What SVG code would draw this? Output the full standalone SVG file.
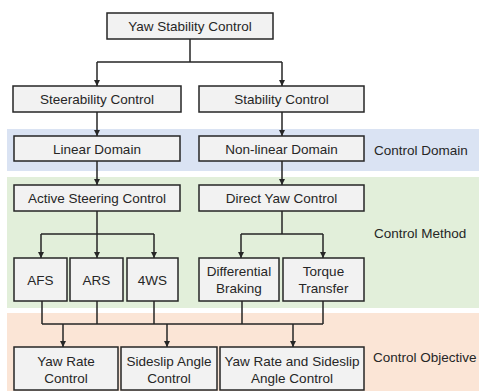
<svg xmlns="http://www.w3.org/2000/svg" width="479" height="391" viewBox="0 0 479 391">
<defs>
<style>
.box{fill:#f2f2f2;stroke:#262626;stroke-width:1.5}
.t{font-family:"Liberation Sans",Arial,sans-serif;font-size:13.5px;fill:#262626;text-anchor:middle}
.lbl{font-family:"Liberation Sans",Arial,sans-serif;font-size:13.5px;fill:#262626}
.ln{fill:none;stroke:#262626;stroke-width:1.5}
</style>
<marker id="ah" viewBox="0 0 6 6" refX="6" refY="3" markerWidth="6" markerHeight="6" markerUnits="userSpaceOnUse" orient="auto">
<path d="M0,0 L6,3 L0,6 Z" fill="#262626"/>
</marker>
</defs>
<rect width="479" height="391" fill="#ffffff"/>
<g id="bands">
<rect x="7" y="129" width="472" height="42" fill="#dae3f3"/>
<rect x="7" y="177" width="472" height="131" fill="#e2efda"/>
<rect x="7" y="313" width="472" height="78" fill="#fbe5d6"/>
<text class="lbl" x="374" y="155">Control Domain</text>
<text class="lbl" x="374" y="238">Control Method</text>
<text class="lbl" x="373" y="362">Control Objective</text>
</g>
<g id="connectors">
<path class="ln" d="M190,39 V62 M97,62 H282"/>
<path class="ln" d="M97,62 V86" marker-end="url(#ah)"/>
<path class="ln" d="M282,62 V86" marker-end="url(#ah)"/>
<path class="ln" d="M97,112 V136" marker-end="url(#ah)"/>
<path class="ln" d="M282,112 V136" marker-end="url(#ah)"/>
<path class="ln" d="M97,161 V185" marker-end="url(#ah)"/>
<path class="ln" d="M282,161 V185" marker-end="url(#ah)"/>
<path class="ln" d="M97,211 V234 M41,234 H154 M282,211 V234 M241,234 H323"/>
<path class="ln" d="M41,234 V258" marker-end="url(#ah)"/>
<path class="ln" d="M97,234 V258" marker-end="url(#ah)"/>
<path class="ln" d="M154,234 V258" marker-end="url(#ah)"/>
<path class="ln" d="M241,234 V258" marker-end="url(#ah)"/>
<path class="ln" d="M323,234 V258" marker-end="url(#ah)"/>
<path class="ln" d="M42,301 V324 M97,301 V324 M154,301 V324 M242,301 V324 M323,301 V324 M42,324 H323"/>
<path class="ln" d="M63,324 V347" marker-end="url(#ah)"/>
<path class="ln" d="M167,324 V347" marker-end="url(#ah)"/>
<path class="ln" d="M293,324 V347" marker-end="url(#ah)"/>
</g>
<g id="n-ysc"><rect class="box" x="107" y="13" width="166" height="26"/><text class="t" x="190" y="31">Yaw Stability Control</text></g>
<g id="n-steer"><rect class="box" x="13" y="86" width="168" height="26"/><text class="t" x="97" y="104">Steerability Control</text></g>
<g id="n-stab"><rect class="box" x="199" y="86" width="165" height="26"/><text class="t" x="281.5" y="104">Stability Control</text></g>
<g id="n-lin"><rect class="box" x="14" y="136" width="166" height="25"/><text class="t" x="97" y="153.5">Linear Domain</text></g>
<g id="n-nonlin"><rect class="box" x="199" y="136" width="165" height="25"/><text class="t" x="281.5" y="153.5">Non-linear Domain</text></g>
<g id="n-asc"><rect class="box" x="14" y="185" width="166" height="26"/><text class="t" x="97" y="203">Active Steering Control</text></g>
<g id="n-dyc"><rect class="box" x="199" y="185" width="165" height="26"/><text class="t" x="281.5" y="203">Direct Yaw Control</text></g>
<g id="n-afs"><rect class="box" x="14" y="258" width="53" height="43"/><text class="t" x="40.5" y="284.5">AFS</text></g>
<g id="n-ars"><rect class="box" x="70" y="258" width="53" height="43"/><text class="t" x="96.5" y="284.5">ARS</text></g>
<g id="n-4ws"><rect class="box" x="127" y="258" width="51" height="43"/><text class="t" x="152.5" y="284.5">4WS</text></g>
<g id="n-db"><rect class="box" x="199" y="258" width="80" height="43"/><text class="t" x="239" y="275.5">Differential</text><text class="t" x="239" y="292.5">Braking</text></g>
<g id="n-tt"><rect class="box" x="283" y="258" width="81" height="43"/><text class="t" x="323.5" y="275.5">Torque</text><text class="t" x="323.5" y="292.5">Transfer</text></g>
<g id="n-yrc"><rect class="box" x="14" y="347" width="104" height="43"/><text class="t" x="66" y="366">Yaw Rate</text><text class="t" x="66" y="383">Control</text></g>
<g id="n-sac"><rect class="box" x="121" y="347" width="96" height="43"/><text class="t" x="169" y="366">Sideslip Angle</text><text class="t" x="169" y="383">Control</text></g>
<g id="n-both"><rect class="box" x="220" y="347" width="144" height="43"/><text class="t" x="292" y="366">Yaw Rate and Sideslip</text><text class="t" x="292" y="383">Angle Control</text></g>
</svg>
